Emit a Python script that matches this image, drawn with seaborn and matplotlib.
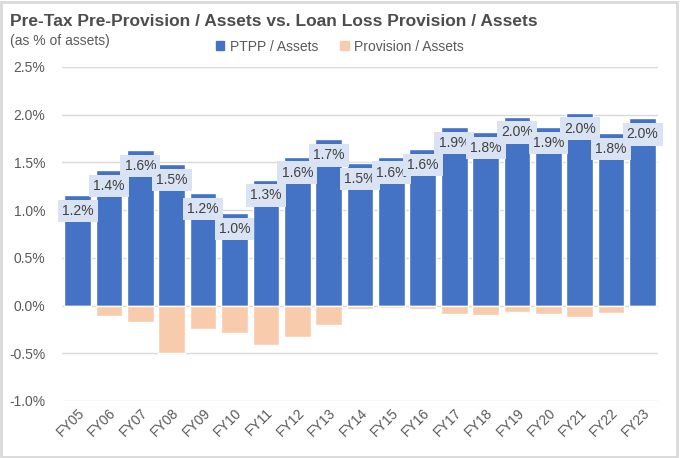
import numpy as np
import pandas as pd
import matplotlib.pyplot as plt
import seaborn as sns
from matplotlib.patches import Rectangle, Patch
from matplotlib.ticker import FuncFormatter

years = ["FY05", "FY06", "FY07", "FY08", "FY09", "FY10", "FY11", "FY12", "FY13", "FY14",
         "FY15", "FY16", "FY17", "FY18", "FY19", "FY20", "FY21", "FY22", "FY23"]
ptpp = [1.16, 1.42, 1.63, 1.48, 1.18, 0.97, 1.32, 1.56, 1.74, 1.49,
        1.56, 1.64, 1.87, 1.82, 1.98, 1.87, 2.02, 1.81, 1.96]
provision = [-0.005, -0.11, -0.175, -0.495, -0.245, -0.285, -0.41, -0.33, -0.20, -0.04,
             -0.03, -0.035, -0.085, -0.095, -0.065, -0.085, -0.12, -0.075, -0.02]

df = pd.DataFrame({"Year": years, "PTPP": ptpp, "Provision": provision})

blue = "#4472C4"
peach = "#F8CBAD"
grey_txt = "#595959"

sns.set_style("white")
plt.rcParams["font.family"] = ["Liberation Sans", "DejaVu Sans"]

fig = plt.figure(figsize=(6.8, 4.58), dpi=100)
ax = fig.add_axes([0.091, 0.1245, 0.877, 0.7295])

sns.barplot(data=df, x="Year", y="PTPP", color=blue, width=0.85, saturation=1, ax=ax)
sns.barplot(data=df, x="Year", y="Provision", color=peach, width=0.85, saturation=1, ax=ax)

# data labels just inside the top of the blue bars
for i, v in enumerate(ptpp):
    ax.annotate(f"{v:.1f}%", xy=(i, v), xytext=(0, -11.5), textcoords="offset points",
                ha="center", va="center", fontsize=10, color="#404040",
                bbox=dict(boxstyle="square,pad=0.3", facecolor="#DAE3F3", edgecolor="none"))

ax.set_ylim(-1.0, 2.5)
ax.set_yticks(np.arange(-1.0, 2.51, 0.5))
ax.yaxis.set_major_formatter(FuncFormatter(lambda y, _: f"{y:.1f}%"))
ax.grid(axis="y", color="#D9D9D9", linewidth=1)
ax.set_axisbelow(True)
sns.despine(ax=ax, left=True, bottom=True)
ax.set_xlabel("")
ax.set_ylabel("")
ax.tick_params(axis="both", length=0, labelsize=10, labelcolor=grey_txt)
ax.tick_params(axis="y", pad=12)
plt.setp(ax.get_xticklabels(), rotation=45, ha="right", rotation_mode="anchor")

fig.text(0.015, 0.953, "Pre-Tax Pre-Provision / Assets vs. Loan Loss Provision / Assets",
         fontsize=12.5, fontweight="bold", color="#4D4D4D", va="center")
fig.text(0.015, 0.91, "(as % of assets)", fontsize=10, color=grey_txt, va="center")

handles = [Patch(color=blue, label="PTPP / Assets"), Patch(color=peach, label="Provision / Assets")]
fig.legend(handles=handles, loc="center", bbox_to_anchor=(0.5, 0.898), ncol=2, frameon=False,
           fontsize=10, labelcolor=grey_txt, handlelength=0.6, handleheight=0.6,
           handletextpad=0.4, columnspacing=1.6)

fig.patches.append(Rectangle((0.002, 0.003), 0.994, 0.993, transform=fig.transFigure,
                             fill=False, edgecolor="#D9D9D9", linewidth=2))

fig.savefig("out.png", dpi=100)
